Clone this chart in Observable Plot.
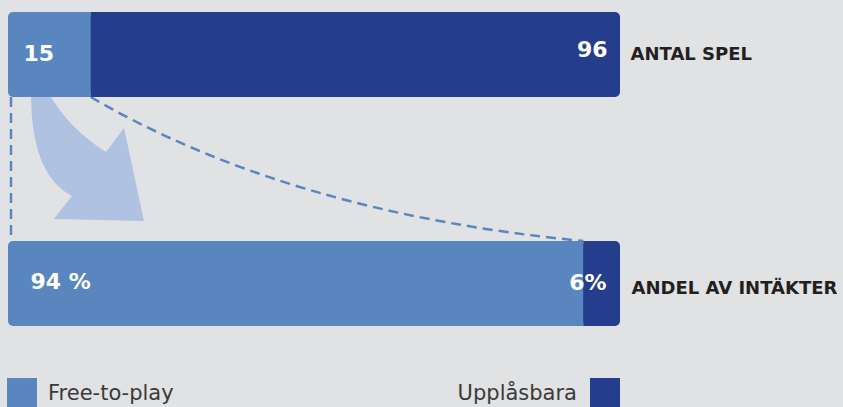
<!DOCTYPE html>
<html>
<head>
<meta charset="utf-8">
<script src="https://cdn.jsdelivr.net/npm/d3@7"></script>
<script src="https://cdn.jsdelivr.net/npm/@observablehq/plot@0.6"></script>
<style>
  html, body { margin: 0; padding: 0; background: #e1e2e4; width: 843px; height: 407px; overflow: hidden; position: relative; }
  #legend { position: absolute; left: 7px; top: 378px; width: 613px; height: 30px; display: flex; justify-content: space-between; align-items: center;
            font-family: "DejaVu Sans", sans-serif; font-size: 21px; color: #3a3a3a; }
  #legend .item { display: flex; align-items: center; }
  #legend .sw { display: inline-block; width: 30px; height: 30px; }
  #legend .item:first-child .sw { margin-right: 11px; }
  #legend .item:last-child .sw { margin-left: 13px; }
</style>
</head>
<body>
<div id="chart"></div>
<div id="legend"></div>
<script>
// ---- Data ----
const rows = ["ANTAL SPEL", "ANDEL AV INTÄKTER"];
const seriesNames = ["Free-to-play", "Upplåsbara"];
const freeValues = [15, 94];
const unlockValues = [96, 6];
const freeLabels = ["15", "94 %"];
const unlockLabels = ["96", "6%"];

// ---- Derived table (normalized stacks per row) ----
const segments = rows.flatMap((row, i) => {
  const share = freeValues[i] / (freeValues[i] + unlockValues[i]);
  return [
    {row, i, type: seriesNames[0], x1: 0, x2: share, label: freeLabels[i]},
    {row, i, type: seriesNames[1], x1: share, x2: 1, label: unlockLabels[i]}
  ];
});
const free = segments.filter(d => d.type === seriesNames[0]);
const unlock = segments.filter(d => d.type === seriesNames[1]);

const LIGHT = "#5a86bf", DARK = "#243d8c", ARROW = "#afc2e2", INK = "#231f20";

function geom(scales) {
  const x = scales.x, y = scales.y;
  const bw = typeof y.bandwidth === "function" ? y.bandwidth() : 85;
  const L = x(0);
  const T = y(rows[0]) + bw;
  const G = y(rows[1]) - T;
  return {x, L, T, G};
}

// connectors (dashed) drawn behind the bars
function connectors(index, scales) {
  const {x, L, T, G} = geom(scales);
  const g = d3.create("svg:g")
    .attr("fill", "none").attr("stroke", LIGHT).attr("stroke-width", 2.5).attr("stroke-dasharray", "10,6");
  g.append("path").attr("d", `M${L + 3},${T}V${T + G}`);
  const x0 = x(free[0].x2), x1 = x(free[1].x2);
  const cx = x0 + 0.404 * (x1 - x0), cy = T + 0.806 * G;
  g.append("path").attr("d", `M${x0},${T}Q${cx},${cy} ${x1},${T + G}`);
  return g.node();
}

// decorative curved arrow (relative to the gap between bars)
function arrow(index, scales) {
  const {L, T, G} = geom(scales);
  const P = (u, v) => `${L + u * G},${T + v * G}`;
  const d = `M${P(0.160, -0.02)}Q${P(0.160, 0.542)} ${P(0.444, 0.6875)}` +
            `L${P(0.319, 0.847)}L${P(0.944, 0.861)}L${P(0.806, 0.215)}L${P(0.681, 0.382)}` +
            `Q${P(0.431, 0.229)} ${P(0.285, -0.02)}Z`;
  return d3.create("svg:path").attr("d", d).attr("fill", ARROW).node();
}

const numStyle = {fill: "white", fontSize: 22, fontWeight: "bold"};
const rowStyle = {fill: INK, fontSize: 18, fontWeight: "bold", textAnchor: "start"};

const chart = Plot.plot({
  width: 843,
  height: 370,
  marginLeft: 8,
  marginRight: 223,
  marginTop: 12,
  marginBottom: 44,
  style: {background: "transparent", fontFamily: "DejaVu Sans", overflow: "visible"},
  x: {domain: [0, 1], axis: null},
  y: {domain: rows, range: [12, 326], paddingInner: 144 / 229, paddingOuter: 0, axis: null},
  color: {domain: seriesNames, range: [LIGHT, DARK]},
  marks: [
    connectors,
    arrow,
    Plot.barX(segments, {x1: "x1", x2: "x2", y: "row", fill: "type", rx: 5}),
    Plot.barX(free, {x1: "x1", x2: "x2", y: "row", fill: "type", insetLeft: 6}),
    Plot.barX(unlock, {x1: "x1", x2: "x2", y: "row", fill: "type", insetRight: 6}),
    Plot.text(free.filter(d => d.i === 0), {x: "x1", y: "row", text: "label", textAnchor: "start", dx: 15, dy: -1, ...numStyle}),
    Plot.text(free.filter(d => d.i === 1), {x: "x1", y: "row", text: "label", textAnchor: "start", dx: 22, dy: -2.5, ...numStyle}),
    Plot.text(unlock.filter(d => d.i === 0), {x: "x2", y: "row", text: "label", textAnchor: "end", dx: -13, dy: -5.5, ...numStyle}),
    Plot.text(unlock.filter(d => d.i === 1), {x: "x2", y: "row", text: "label", textAnchor: "end", dx: -14, dy: -1, ...numStyle}),
    Plot.text(unlock.filter(d => d.i === 0), {x: "x2", y: "row", text: "row", dx: 10, dy: -0.5, ...rowStyle}),
    Plot.text(unlock.filter(d => d.i === 1), {x: "x2", y: "row", text: "row", dx: 11, dy: 4.5, ...rowStyle})
  ]
});
document.getElementById("chart").appendChild(chart);

// ---- Legend ----
const legend = d3.select("#legend");
const colors = [LIGHT, DARK];
const a = legend.append("span").attr("class", "item");
a.append("span").attr("class", "sw").style("background", colors[0]);
a.append("span").text(seriesNames[0]);
const b = legend.append("span").attr("class", "item");
b.append("span").text(seriesNames[1]);
b.append("span").attr("class", "sw").style("background", colors[1]);
</script>
</body>
</html>
